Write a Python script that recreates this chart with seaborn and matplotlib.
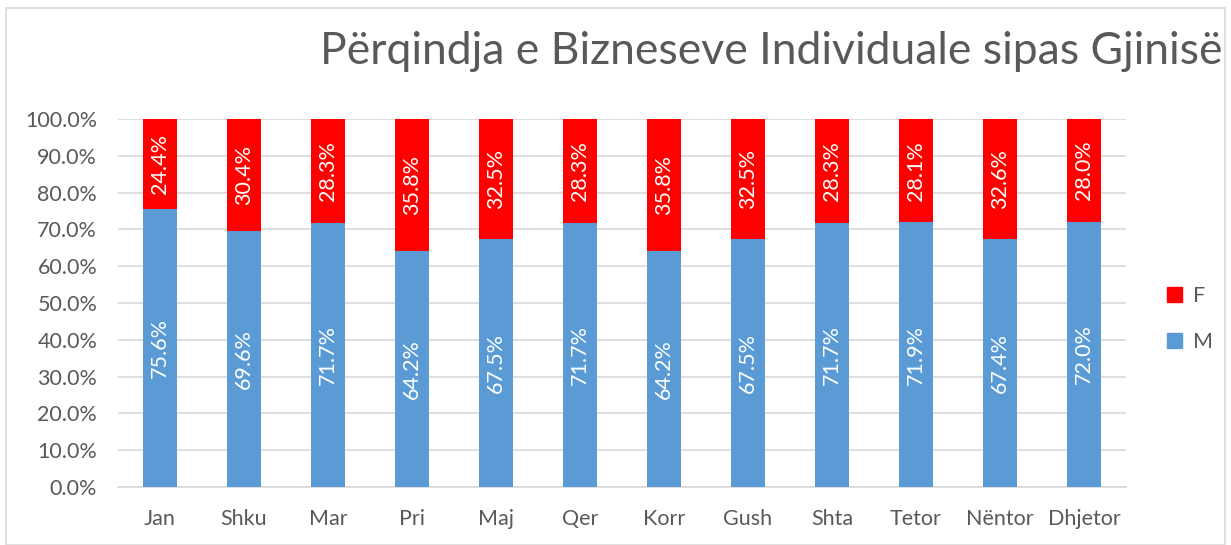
import matplotlib
matplotlib.use("Agg")
import matplotlib.pyplot as plt
import seaborn as sns
import pandas as pd
from matplotlib.patches import Rectangle

months = ["Jan", "Shku", "Mar", "Pri", "Maj", "Qer", "Korr", "Gush", "Shta", "Tetor", "Nëntor", "Dhjetor"]
m_vals = [75.6, 69.6, 71.7, 64.2, 67.5, 71.7, 64.2, 67.5, 71.7, 71.9, 67.4, 72.0]
f_vals = [24.4, 30.4, 28.3, 35.8, 32.5, 28.3, 35.8, 32.5, 28.3, 28.1, 32.6, 28.0]
title = "Përqindja e Bizneseve Individuale sipas Gjinisë"
y_ticks = [0, 10, 20, 30, 40, 50, 60, 70, 80, 90, 100]

sns.set_theme(style="white")
plt.rcParams['font.family'] = ['Lato', 'DejaVu Sans']

df = pd.DataFrame({"month": months, "M": m_vals, "F": f_vals})
df["total"] = df["M"] + df["F"]

fig = plt.figure(figsize=(12.31, 5.45), dpi=100)
ax = fig.add_axes([0.0959, 0.1064, 0.8188, 0.6753])

blue = "#5b9bd5"
red = "#ff0000"
sns.barplot(data=df, x="month", y="total", color=red, width=0.4, ax=ax,
            saturation=1, order=months, zorder=3, linewidth=0)
sns.barplot(data=df, x="month", y="M", color=blue, width=0.4, ax=ax,
            saturation=1, order=months, zorder=3, linewidth=0)

for i, (m, f) in enumerate(zip(m_vals, f_vals)):
    ax.text(i, m / 2, f"{m:.1f}%", rotation=90, ha="center", va="center",
            color="white", fontsize=15.5, zorder=4)
    ax.text(i, m + f / 2, f"{f:.1f}%", rotation=90, ha="center", va="center",
            color="white", fontsize=15.5, zorder=4)

ax.set_ylim(0, 100)
ax.set_xlim(-0.5, len(months) - 0.5)
ax.set_yticks(y_ticks)
ax.set_yticklabels([f"{v:.1f}%" for v in y_ticks])
ax.yaxis.grid(True, color="#d9d9d9", linewidth=1.2, zorder=0)
ax.set_axisbelow(True)
for s in ["top", "right", "left"]:
    ax.spines[s].set_visible(False)
ax.spines["bottom"].set_color("#d9d9d9")
ax.spines["bottom"].set_linewidth(1.2)
ax.tick_params(axis="both", colors="#595959", labelsize=15.5, length=0)
ax.tick_params(axis="x", pad=16)
ax.tick_params(axis="y", pad=15)
ax.set_xlabel("")
ax.set_ylabel("")

fig.text(0.993, 0.905, title, ha="right", va="center", fontsize=32,
         color="#595959")

# legend
handles = [Rectangle((0, 0), 1, 1, color=red), Rectangle((0, 0), 1, 1, color=blue)]
leg = fig.legend(handles, ["F", "M"], loc="center left", bbox_to_anchor=(0.932, 0.415),
                 frameon=False, fontsize=15.5, handlelength=0.7, handleheight=0.7,
                 labelspacing=1.2, handletextpad=0.5, labelcolor="#595959")

# outer border
fig.patches.append(Rectangle((0.005, 0.0), 0.99, 0.985, transform=fig.transFigure,
                             fill=False, edgecolor="#d9d9d9", linewidth=1.2))

fig.savefig("out.png", dpi=100)
